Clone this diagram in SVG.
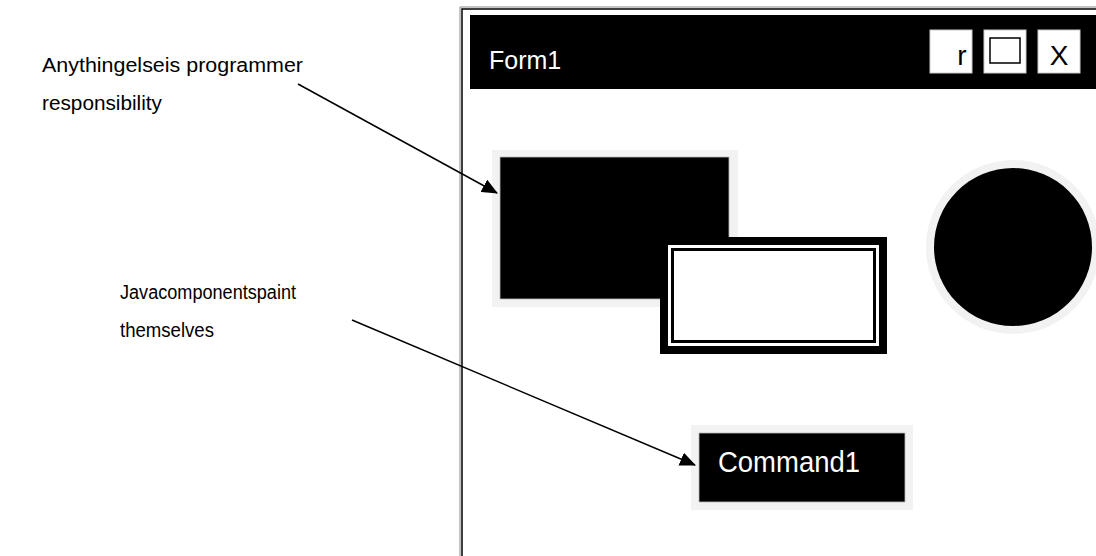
<svg xmlns="http://www.w3.org/2000/svg" width="1096" height="556" viewBox="0 0 1096 556">
  <style>
    .lbl { font-family: "Liberation Sans", Arial, sans-serif; font-size: 20px; fill: #000; }
    .ttl { font-family: "Liberation Sans", Arial, sans-serif; fill: #fff; }
    .btn { fill: #fff; stroke: #ccc; stroke-width: 1; }
    .conn { stroke: #000; stroke-width: 1.5; fill: none; marker-end: url(#arrow); }
    .halo { fill: #f2f2f2; }
  </style>
  <defs>
    <marker id="arrow" markerUnits="userSpaceOnUse" markerWidth="16" markerHeight="14" viewBox="0 0 16 14" refX="15" refY="7" orient="auto">
      <path d="M0,0 L16,7 L0,14 z" fill="#000"/>
    </marker>
  </defs>
  <rect width="1096" height="556" fill="#fff"/>

  <g id="form-window">
    <path d="M460,556 V7 H1096" fill="none" stroke="#888" stroke-width="1"/>
    <path d="M462,556 V9 H1096" fill="none" stroke="#000" stroke-width="1.5"/>
  </g>

  <g id="title-bar">
    <rect x="470" y="15" width="626" height="74" fill="#000"/>
    <text class="ttl" x="489" y="69" font-size="25">Form1</text>
  </g>

  <g id="btn-min">
    <rect class="btn" x="930" y="30" width="42" height="43"/>
    <text x="962" y="65" font-family="Liberation Sans, Arial, sans-serif" font-size="28" text-anchor="middle" fill="#000">r</text>
  </g>
  <g id="btn-max">
    <rect class="btn" x="984" y="30" width="42" height="43"/>
    <rect x="990" y="38" width="30" height="25" fill="none" stroke="#000" stroke-width="1.5"/>
  </g>
  <g id="btn-close">
    <rect class="btn" x="1038" y="30" width="42" height="43"/>
    <text x="1059" y="65" font-family="Liberation Sans, Arial, sans-serif" font-size="28" text-anchor="middle" fill="#000">X</text>
  </g>

  <g id="custom-rect">
    <rect class="halo" x="492" y="150" width="246" height="157"/>
    <rect x="500" y="157" width="229" height="142" fill="#000" stroke="#bbb" stroke-width="0.8"/>
  </g>

  <g id="framed-rect">
    <rect x="660" y="237" width="227" height="117" fill="#000"/>
    <rect x="668" y="245" width="211" height="101" fill="#fff"/>
    <rect x="671" y="248" width="205" height="95" fill="#000"/>
    <rect x="674" y="251" width="199" height="89" fill="#fff"/>
  </g>

  <g id="circle">
    <circle class="halo" cx="1013" cy="247" r="87"/>
    <circle cx="1013" cy="247" r="79" fill="#000"/>
  </g>

  <g id="command1">
    <rect class="halo" x="691" y="425" width="222" height="85"/>
    <rect x="699" y="433" width="206" height="69" fill="#000" stroke="#bbb" stroke-width="0.8"/>
    <text class="ttl" x="718" y="472" font-size="30" textLength="142" lengthAdjust="spacingAndGlyphs">Command1</text>
  </g>

  <g id="label-programmer">
    <text class="lbl" x="42" y="72" textLength="261" lengthAdjust="spacingAndGlyphs">Anythingelseis programmer</text>
    <text class="lbl" x="42" y="110" textLength="120" lengthAdjust="spacingAndGlyphs">responsibility</text>
  </g>

  <g id="label-java">
    <text class="lbl" x="120" y="299" textLength="176" lengthAdjust="spacingAndGlyphs">Javacomponentspaint</text>
    <text class="lbl" x="120" y="337" textLength="94" lengthAdjust="spacingAndGlyphs">themselves</text>
  </g>

  <g id="connectors">
    <line class="conn" x1="298" y1="84" x2="497" y2="193"/>
    <line class="conn" x1="352" y1="320" x2="695" y2="465"/>
  </g>
</svg>
